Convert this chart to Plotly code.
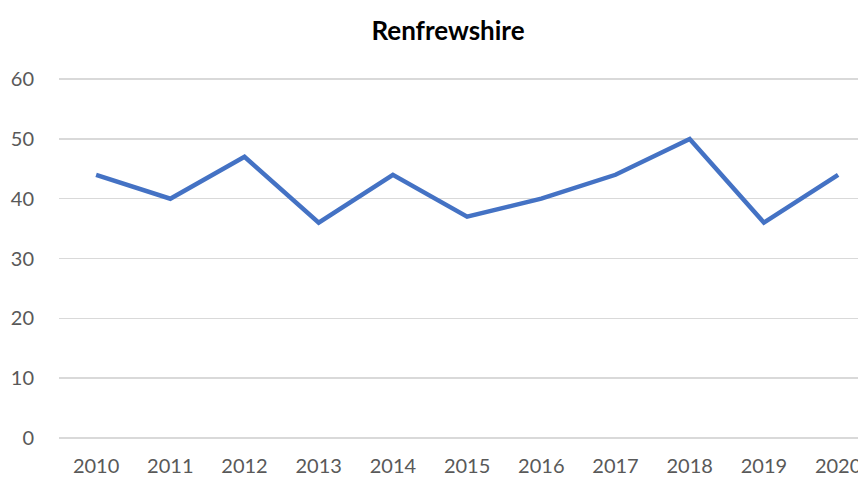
import plotly.graph_objects as go

years = ["2010", "2011", "2012", "2013", "2014", "2015", "2016", "2017", "2018", "2019", "2020"]
values = [44, 40, 47, 36, 44, 37, 40, 44, 50, 36, 44]
y_ticks = [0, 10, 20, 30, 40, 50, 60]

fig = go.Figure()
fig.add_trace(go.Scatter(
    x=list(range(len(years))), y=values, mode="lines",
    line=dict(color="#4472C4", width=4.5),
    hoverinfo="skip", cliponaxis=False,
))

font_family = "Lato, 'Open Sans', sans-serif"
fig.update_layout(
    width=858, height=477,
    margin=dict(l=59, r=0, t=77, b=37, autoexpand=False),
    paper_bgcolor="white", plot_bgcolor="white",
    showlegend=False,
    title=dict(text="<b>Renfrewshire</b>", x=448/858, xanchor="center",
               y=1 - 31/477, yanchor="middle",
               font=dict(family=font_family, size=26, color="#000000")),
    xaxis=dict(
        tickmode="array", tickvals=list(range(len(years))), ticktext=years,
        range=[-0.5, -0.5 + (858 - 59) / 74.2],
        showgrid=False, zeroline=False, showline=False, ticks="",
        tickfont=dict(family=font_family, size=20, color="#595959"),
        automargin=False, ticklabelstandoff=12, ticklabeloverflow="allow",
    ),
    yaxis=dict(
        range=[-0.35, 60.35], tickvals=y_ticks,
        showgrid=True, gridcolor="#d9d9d9", gridwidth=1.3,
        zeroline=False, showline=False, ticks="",
        tickfont=dict(family=font_family, size=20, color="#595959"),
        automargin=False, ticklabelstandoff=24,
    ),
)

fig.write_html("out.html", config={"displayModeBar": False, "staticPlot": True},
               post_script="document.body.style.margin='0';document.body.style.overflow='hidden';")
